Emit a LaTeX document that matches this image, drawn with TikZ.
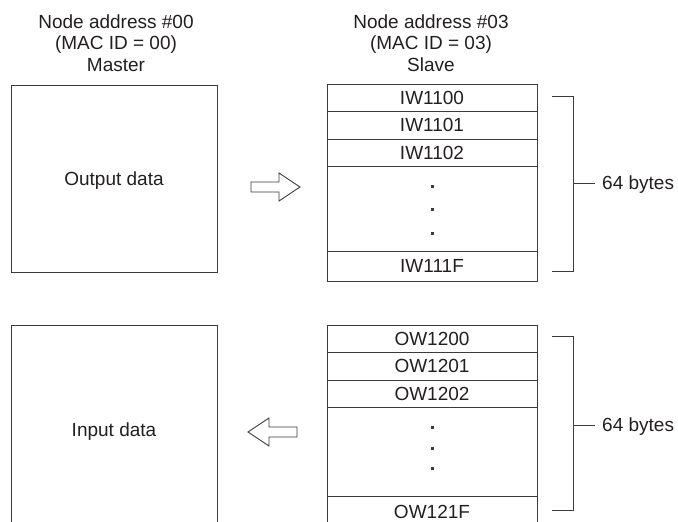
\documentclass[tikz,border=0pt]{standalone}
\usepackage{fontspec}
\setmainfont{Liberation Sans}
\usetikzlibrary{positioning}

\definecolor{linegray}{HTML}{3C3C3C}
\definecolor{textblack}{HTML}{231F20}

\begin{document}
\begin{tikzpicture}[x=1pt, y=-1pt,
    every node/.style={font=\fontsize{19}{21.5}\selectfont, text=textblack},
    databox/.style={draw=linegray, line width=1pt, minimum width=206pt, text depth=0pt, inner sep=0pt, outer sep=0pt},
    cell/.style={draw=linegray, line width=1pt, minimum width=210pt, inner sep=0pt, outer sep=0pt},
    dotmark/.style={fill=linegray, minimum size=3pt, inner sep=0pt},
    bracket/.style={draw=linegray, line width=1pt},
    blockarrow/.style={draw=linegray, line width=0.9pt, fill=white, line join=miter}]
    \useasboundingbox (0,0) rectangle (678,522);
    \clip (0,0) rectangle (678,522);

    % Headings
    \node[align=center] (master) at (116,43) {Node address \#00\\(MAC ID = 00)\\Master};
    \node[align=center] (slave) at (431,43) {Node address \#03\\(MAC ID = 03)\\Slave};

    % Master side
    \node[databox, minimum height=187pt] (outdata) at (114,178.5) {Output data};
    \node[databox, minimum height=210pt] (indata) at (114,430) {Input data};

    % Slave side, input words
    \node[cell, minimum height=27.5pt] (iw0) at (432,97.75) {IW1100};
    \node[cell, minimum height=27.5pt, below=0pt of iw0] (iw1) {IW1101};
    \node[cell, minimum height=27.5pt, below=0pt of iw1] (iw2) {IW1102};
    \node[cell, minimum height=85pt, below=0pt of iw2] (iwdots) {};
    \node[cell, minimum height=29.5pt, below=0pt of iwdots] (iwlast) {IW111F};
    \node[dotmark] (iwd1) at (432,186) {};
    \node[dotmark] (iwd2) at (432,209.5) {};
    \node[dotmark] (iwd3) at (432,233) {};

    % Slave side, output words
    \node[cell, minimum height=27.5pt] (ow0) at (432,338.75) {OW1200};
    \node[cell, minimum height=27.5pt, below=0pt of ow0] (ow1) {OW1201};
    \node[cell, minimum height=27.5pt, below=0pt of ow1] (ow2) {OW1202};
    \node[cell, minimum height=88.5pt, below=0pt of ow2] (owdots) {};
    \node[cell, minimum height=32pt, below=0pt of owdots] (owlast) {OW121F};
    \node[dotmark] (owd1) at (432,427) {};
    \node[dotmark] (owd2) at (432,448) {};
    \node[dotmark] (owd3) at (432,468) {};

    % Transfer arrows
    \draw[blockarrow] (300,187) -- ++(-21,-14) -- ++(0,9) -- ++(-28,0) -- ++(0,10)
        -- ++(28,0) -- ++(0,9) -- cycle;
    \draw[blockarrow] (248,432) -- ++(21,-14) -- ++(0,9) -- ++(28,0) -- ++(0,10)
        -- ++(-28,0) -- ++(0,9) -- cycle;

    % Size brackets
    \coordinate (iwtop) at (552,96);
    \coordinate (iwbot) at (552,271);
    \coordinate (iwmid) at (573,183);
    \node[anchor=west, inner xsep=7pt, inner ysep=0pt, text depth=0pt] (iwbytes) at (595,183) {64 bytes};
    \draw[bracket] (iwtop) -- (iwtop -| iwmid) -- (iwbot -| iwmid) -- (iwbot);
    \draw[bracket] (iwmid) -- (iwbytes.west);

    \coordinate (owtop) at (552,336);
    \coordinate (owbot) at (552,510);
    \coordinate (owmid) at (573,425);
    \node[anchor=west, inner xsep=7pt, inner ysep=0pt, text depth=0pt] (owbytes) at (595,425) {64 bytes};
    \draw[bracket] (owtop) -- (owtop -| owmid) -- (owbot -| owmid) -- (owbot);
    \draw[bracket] (owmid) -- (owbytes.west);
\end{tikzpicture}
\end{document}
